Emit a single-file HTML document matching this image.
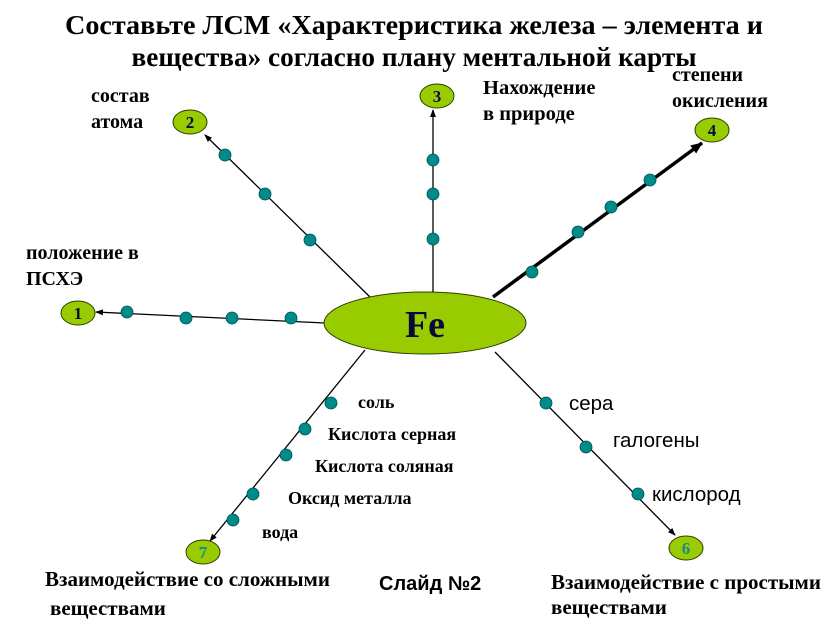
<!DOCTYPE html>
<html><head><meta charset="utf-8"><style>
html,body{margin:0;padding:0;background:#fff;}
svg{display:block;}
.t{font-family:"Liberation Serif","Noto Serif CJK SC",serif;font-weight:bold;fill:#000;}
.s{font-family:"Liberation Sans","Noto Sans CJK SC",sans-serif;fill:#000;}
</style></head><body>
<svg width="830" height="623" viewBox="0 0 830 623" xmlns="http://www.w3.org/2000/svg">
<defs>
<marker id="a" markerWidth="8" markerHeight="8" refX="7" refY="4" orient="auto" markerUnits="userSpaceOnUse"><path d="M0,1 L8,4 L0,7 z" fill="#000"/></marker>
<marker id="b" markerWidth="12" markerHeight="12" refX="11" refY="6" orient="auto" markerUnits="userSpaceOnUse"><path d="M0,1 L12,6 L0,11 z" fill="#000"/></marker>
</defs>
<text class="t" x="414" y="34" font-size="27" text-anchor="middle" textLength="698" lengthAdjust="spacingAndGlyphs">Составьте ЛСМ «Характеристика железа  – элемента и</text>
<text class="t" x="414" y="66" font-size="27" text-anchor="middle" textLength="565" lengthAdjust="spacingAndGlyphs">вещества» согласно плану ментальной карты</text>

<g stroke="#000" stroke-width="1.3" fill="none">
<line x1="325" y1="323" x2="96" y2="312" marker-end="url(#a)"/>
<line x1="370" y1="297" x2="205" y2="135" marker-end="url(#a)"/>
<line x1="433" y1="293" x2="433" y2="110" marker-end="url(#a)"/>
<line x1="493" y1="297" x2="702" y2="143" stroke-width="3.5" marker-end="url(#b)"/>
<line x1="495" y1="352" x2="675" y2="535" marker-end="url(#a)"/>
<line x1="365" y1="350" x2="210" y2="541" marker-end="url(#a)"/>
</g>

<g fill="#008b8b" stroke="#004d4d" stroke-width="0.8">
<circle cx="127" cy="312" r="6"/><circle cx="186" cy="318" r="6"/><circle cx="232" cy="318" r="6"/><circle cx="291" cy="318" r="6"/>
<circle cx="225" cy="155" r="6"/><circle cx="265" cy="194" r="6"/><circle cx="310" cy="240" r="6"/>
<circle cx="433" cy="160" r="6"/><circle cx="433" cy="194" r="6"/><circle cx="433" cy="239" r="6"/>
<circle cx="532" cy="272" r="6"/><circle cx="578" cy="232" r="6"/><circle cx="611" cy="207" r="6"/><circle cx="650" cy="180" r="6"/>
<circle cx="546" cy="403" r="6"/><circle cx="586" cy="447" r="6"/><circle cx="638" cy="494" r="6"/>
<circle cx="331" cy="403" r="6"/><circle cx="305" cy="429" r="6"/><circle cx="286" cy="455" r="6"/><circle cx="253" cy="494" r="6"/><circle cx="233" cy="520" r="6"/>
</g>

<g fill="#99cc00" stroke="#2a4000" stroke-width="1">
<ellipse cx="425" cy="323" rx="101" ry="31"/>
<ellipse cx="78" cy="313" rx="17" ry="12"/>
<ellipse cx="190" cy="122" rx="17" ry="12"/>
<ellipse cx="437" cy="96" rx="17" ry="12"/>
<ellipse cx="712" cy="130" rx="17" ry="12"/>
<ellipse cx="686" cy="548" rx="17" ry="12"/>
<ellipse cx="203" cy="552" rx="17" ry="12"/>
</g>
<text class="t" x="425" y="337" font-size="38" text-anchor="middle" style="fill:#0a0a3a">Fe</text>
<g class="t" font-size="17" text-anchor="middle" style="fill:#0a0a3a">
<text x="78" y="319">1</text><text x="190" y="128">2</text><text x="437" y="102">3</text><text x="712" y="136">4</text>
</g>
<g class="t" font-size="17" text-anchor="middle" style="fill:#1a8a8a">
<text x="686" y="554">6</text><text x="203" y="558">7</text>
</g>

<g class="t" font-size="20">
<text x="91" y="102">состав</text><text x="91" y="128">атома</text>
<text x="26" y="259">положение в</text><text x="26" y="285">ПСХЭ</text>
<text x="483" y="94" font-size="20.5">Нахождение</text><text x="483" y="120" font-size="20.5">в  природе</text>
<text x="672" y="81">степени</text><text x="672" y="107">окисления</text>
<text x="358" y="408" font-size="18">соль</text>
<text x="328" y="440" font-size="18">Кислота серная</text>
<text x="315" y="472" font-size="18">Кислота соляная</text>
<text x="288" y="504" font-size="18">Оксид  металла</text>
<text x="262" y="538" font-size="18">вода</text>
<text x="45" y="586" font-size="21">Взаимодействие со сложными</text>
<text x="50" y="615" font-size="21">веществами</text>
<text x="551" y="589" font-size="21">Взаимодействие с простыми</text>
<text x="551" y="614" font-size="21">веществами</text>
</g>
<g class="s" font-size="20.5">
<text x="569" y="410">сера</text>
<text x="613" y="447">галогены</text>
<text x="652" y="501">кислород</text>
<text x="379" y="590" font-weight="bold" font-size="20">Слайд №2</text>
</g>
</svg>
</body></html>
